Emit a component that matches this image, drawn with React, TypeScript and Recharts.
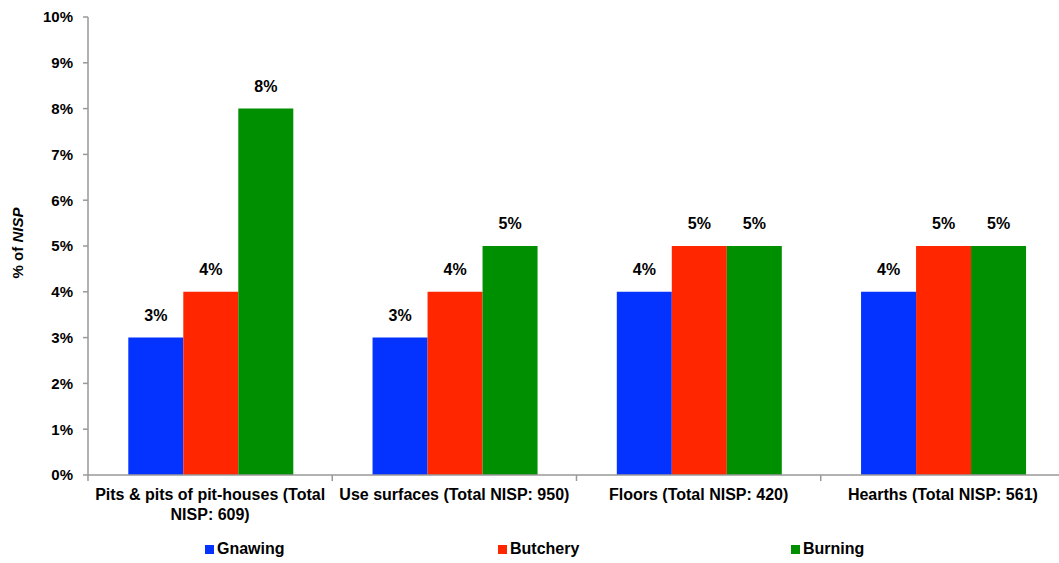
import React from "react";
import { BarChart, Bar, XAxis, YAxis, LabelList, Legend, Text } from "recharts";

const categories = [
  "Pits & pits of pit-houses (Total NISP: 609)",
  "Use surfaces (Total NISP: 950)",
  "Floors (Total NISP: 420)",
  "Hearths (Total NISP: 561)",
];
const gnawing = [3, 3, 4, 4];
const butchery = [4, 4, 5, 5];
const burning = [8, 5, 5, 5];
const yTicks = [0, 1, 2, 3, 4, 5, 6, 7, 8, 9, 10];

const SERIES = [
  { key: "gnawing", name: "Gnawing", color: "#0433FF" },
  { key: "butchery", name: "Butchery", color: "#FF2600" },
  { key: "burning", name: "Burning", color: "#008F00" },
];

const data = categories.map((c, i) => ({
  name: c,
  gnawing: gnawing[i],
  butchery: butchery[i],
  burning: burning[i],
}));

const FONT = "'Liberation Sans', Arial, Helvetica, sans-serif";

function CategoryTick(props: any) {
  const { x, y, payload } = props;
  const half = payload.offset || 0;
  return (
    <g>
      <line x1={x - half} y1={y} x2={x - half} y2={y + 6} stroke="#999" strokeWidth={1.5} />
      <Text
        x={x}
        y={y + 14}
        width={238}
        textAnchor="middle"
        verticalAnchor="start"
        lineHeight={20}
        fontFamily={FONT}
        fontWeight="bold"
        fontSize={16}
        fill="#000"
      >
        {payload.value}
      </Text>
    </g>
  );
}

function YLabel(props: any) {
  const { viewBox } = props;
  const cy = viewBox.y + viewBox.height / 2 - 3;
  return (
    <text
      x={23}
      y={cy}
      transform={`rotate(-90, 23, ${cy})`}
      textAnchor="middle"
      fontFamily={FONT}
      fontWeight="bold"
      fontSize={15}
      fill="#000"
    >
      % of <tspan fontStyle="italic">NISP</tspan>
    </text>
  );
}

function LegendContent() {
  return (
    <div style={{ display: "flex", height: 28, alignItems: "center", paddingLeft: 205 }}>
      {SERIES.map((s) => (
        <div key={s.key} style={{ width: 293, flexShrink: 0, display: "flex", alignItems: "center" }}>
          <span style={{ width: 9, height: 9, background: s.color, marginRight: 3, display: "inline-block" }} />
          <span style={{ fontFamily: FONT, fontWeight: "bold", fontSize: 16, color: "#000" }}>{s.name}</span>
        </div>
      ))}
    </div>
  );
}

export default function App() {
  return (
    <div style={{ position: "fixed", left: 0, top: 0, width: 1059, height: 563, overflow: "hidden", background: "#fff" }}>
      <BarChart
        width={1065}
        height={563}
        data={data}
        margin={{ top: 17, right: 0, bottom: 0, left: 0 }}
        barCategoryGap="16.5%"
        barGap={0}
      >
        <XAxis
          dataKey="name"
          tick={<CategoryTick />}
          tickLine={false}
          tickSize={0}
          tickMargin={0}
          height={60}
          interval={0}
          axisLine={{ stroke: "#999", strokeWidth: 1.5 }}
        />
        <YAxis
          width={88}
          domain={[0, 10]}
          ticks={yTicks}
          interval={0}
          tickFormatter={(v) => `${v}%`}
          tickSize={5}
          tickMargin={10}
          tick={{ fontFamily: FONT, fontWeight: "bold", fontSize: 15, fill: "#000" }}
          tickLine={{ stroke: "#999", strokeWidth: 1.5 }}
          axisLine={{ stroke: "#999", strokeWidth: 1.5 }}
          label={{ content: (p: any) => <YLabel {...p} /> }}
        />
        <Legend verticalAlign="bottom" height={28} content={() => <LegendContent />} />
        {SERIES.map((s) => (
          <Bar key={s.key} dataKey={s.key} name={s.name} fill={s.color} isAnimationActive={false}>
            <LabelList
              dataKey={s.key}
              position="top"
              offset={17}
              formatter={(v: any) => `${v}%`}
              style={{ fontFamily: FONT, fontWeight: "bold", fontSize: 16, fill: "#000" }}
            />
          </Bar>
        ))}
      </BarChart>
    </div>
  );
}
